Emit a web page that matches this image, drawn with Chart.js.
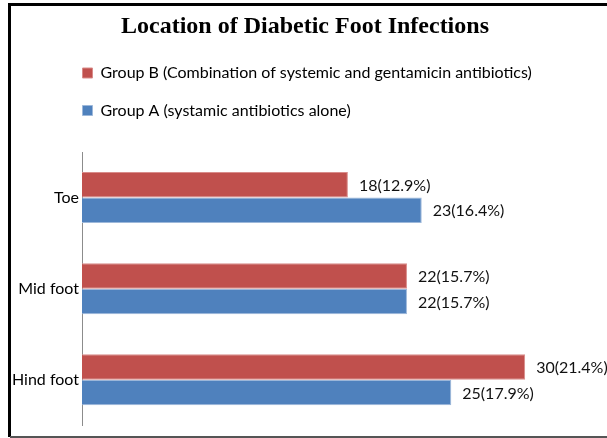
<!DOCTYPE html>
<html>
<head>
<meta charset="utf-8">
<script src="https://cdn.jsdelivr.net/npm/chart.js@4.4.1/dist/chart.umd.min.js"></script>
<style>
  html, body { margin: 0; padding: 0; background: #fff; }
  #wrap { width: 607px; height: 438px; }
</style>
</head>
<body>
<div id="wrap"><canvas id="myChart" width="607" height="438"></canvas></div>
<script>
const locations = ['Toe', 'Mid foot', 'Hind foot'];
const groupBCounts = [18, 22, 30];
const groupBPercents = [12.9, 15.7, 21.4];
const groupACounts = [23, 22, 25];
const groupAPercents = [16.4, 15.7, 17.9];

Chart.defaults.font.family = 'Lato';
Chart.defaults.color = '#000';

// value labels like 18(12.9%) at the end of each bar
const barLabels = {
  id: 'barLabels',
  afterDatasetsDraw(chart) {
    const ctx = chart.ctx;
    ctx.save();
    ctx.font = '16px Lato';
    ctx.fillStyle = '#111';
    ctx.textAlign = 'left';
    ctx.textBaseline = 'middle';
    chart.data.datasets.forEach((ds, i) => {
      chart.getDatasetMeta(i).data.forEach((bar, j) => {
        ctx.fillText(ds.data[j] + '(' + ds.percents[j].toFixed(1) + '%)', bar.x + 11, bar.y + 1);
      });
    });
    ctx.restore();
  }
};

// legend sits indented, lined up over the plot
const legendIndent = {
  id: 'legendIndent',
  afterLayout(chart) {
    chart.legend.left += 50;
    chart.legend.right += 50;
  }
};

// picture frame
const frame = {
  id: 'frame',
  afterDraw(chart) {
    const ctx = chart.ctx;
    ctx.save();
    ctx.fillStyle = '#000';
    ctx.fillRect(8, 3, 599, 3);
    ctx.fillRect(8, 3, 3, 434);
    ctx.fillStyle = '#555';
    ctx.fillRect(10, 436, 597, 2);
    ctx.restore();
  }
};

const data = {
  labels: locations,
  datasets: [
    {
      label: 'Group B (Combination of systemic and gentamicin antibiotics)',
      data: groupBCounts,
      percents: groupBPercents,
      backgroundColor: '#C0504D',
      borderColor: '#D98C8A',
      borderWidth: 1,
    },
    {
      label: 'Group A (systamic antibiotics alone)',
      data: groupACounts,
      percents: groupAPercents,
      backgroundColor: '#4F81BD',
      borderColor: '#9DB8DA',
      borderWidth: 1,
    }
  ]
};

const config = {
  type: 'bar',
  data: data,
  options: {
    indexAxis: 'y',
    responsive: false,
    animation: false,
    categoryPercentage: 0.56,
    barPercentage: 1,
    layout: {
      padding: { left: 11, right: 8, top: 4, bottom: 8 }
    },
    scales: {
      x: {
        position: 'top',
        min: 0,
        max: 35,
        ticks: { display: false },
        grid: { display: false, drawTicks: false },
        border: { display: false },
        afterFit(scale) { scale.height = 23.5; }
      },
      y: {
        grid: { display: false, drawTicks: false },
        border: { display: true, color: '#8c8c8c', width: 1 },
        ticks: { font: { size: 16 }, padding: 3, color: '#000' },
        afterFit(scale) { scale.width = 71; }
      }
    },
    plugins: {
      title: {
        display: true,
        text: 'Location of Diabetic Foot Infections',
        font: { family: 'Liberation Serif', size: 24, weight: 'bold' },
        color: '#000',
        padding: { top: 8.3, bottom: 2.4 }
      },
      legend: {
        position: 'top',
        align: 'start',
        labels: {
          boxWidth: 10,
          boxHeight: 10,
          padding: 21.5,
          font: { size: 16 },
          color: '#000'
        }
      },
      tooltip: { enabled: false }
    }
  },
  plugins: [barLabels, legendIndent, frame]
};

new Chart(document.getElementById('myChart'), config);
</script>
</body>
</html>
